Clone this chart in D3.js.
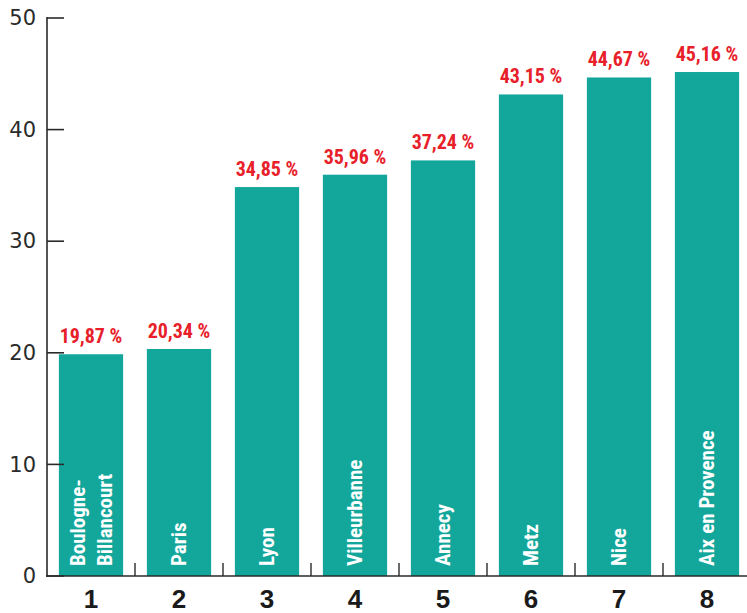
<!DOCTYPE html>
<html><head><meta charset="utf-8">
<script src="https://cdn.jsdelivr.net/npm/d3@7"></script>
<style>body{margin:0;background:#fff}svg{display:block}</style>
</head><body>
<svg id="c" width="747" height="613"></svg>
<script>
const ranks = ["1","2","3","4","5","6","7","8"];
const cities = [["Boulogne-","Billancourt"],["Paris"],["Lyon"],["Villeurbanne"],["Annecy"],["Metz"],["Nice"],["Aix en Provence"]];
const values = [19.87, 20.34, 34.85, 35.96, 37.24, 43.15, 44.67, 45.16];
const valueLabels = ["19,87 %","20,34 %","34,85 %","35,96 %","37,24 %","43,15 %","44,67 %","45,16 %"];
const yTicks = [0,10,20,30,40,50];

const svg = d3.select("#c");
const x = d3.scaleBand().domain(ranks).range([47, 751]).paddingInner(0.27).paddingOuter(0.135);
const y = d3.scaleLinear().domain([0,50]).range([576, 18]);
const teal = "#13a79c", red = "#e8202a", ink = "#2a2a2a";
const cond = "'Liberation Sans Narrow','Roboto Condensed','Liberation Sans',Arial,sans-serif";

const data = ranks.map((r,i)=>({r, v:values[i], city:cities[i], lab:valueLabels[i]}));

svg.selectAll("rect.bar").data(data).join("rect").attr("class","bar")
  .attr("x", d=>x(d.r)).attr("width", x.bandwidth())
  .attr("y", d=>y(d.v)).attr("height", d=>y(0)-y(d.v)).attr("fill", teal);

svg.selectAll("text.val").data(data).join("text").attr("class","val")
  .attr("x", d=>x(d.r)+x.bandwidth()/2).attr("y", d=>y(d.v)-11)
  .attr("text-anchor","middle").attr("fill", red)
  .style("font-family", cond).style("font-weight","bold").style("font-size","20px")
  .text(d=>d.lab);

// city labels rotated inside bars
data.forEach(d=>{
  const cx = x(d.r)+x.bandwidth()/2;
  const n = d.city.length;
  const g = svg.append("g").attr("transform", `translate(${cx},566) rotate(-90)`);
  d.city.forEach((line,j)=>{
    const off = (j - (n-1)/2)*27 + 7;
    g.append("text").attr("x",0).attr("y",off)
      .attr("fill","#fff").style("font-family",cond).style("font-weight","bold").style("font-size","21px")
      .text(line);
  });
});

// y axis
const yAxis = d3.axisLeft(y).tickValues(yTicks).tickSize(0).tickPadding(11);
const ya = svg.append("g").attr("transform","translate(47,0)").call(yAxis);
ya.select(".domain").remove();
ya.selectAll("text").style("font-family","'DejaVu Sans',sans-serif").style("font-size","21px").attr("fill", ink);
svg.append("line").attr("x1",47).attr("x2",47).attr("y1",y(50)-1).attr("y2",y(0)+1).attr("stroke",ink).attr("stroke-width",1.6);
svg.selectAll("line.yt").data(yTicks).join("line").attr("class","yt")
  .attr("x1",47).attr("x2",64).attr("y1",d=>y(d)).attr("y2",d=>y(d)).attr("stroke",ink).attr("stroke-width",1.6);

// x axis
svg.append("line").attr("x1",46).attr("x2",747).attr("y1",y(0)).attr("y2",y(0)).attr("stroke",ink).attr("stroke-width",1.6);
const step = x.step();
svg.selectAll("line.xt").data(ranks.slice(1)).join("line").attr("class","xt")
  .attr("x1", d=>x(d)-(step-x.bandwidth())/2).attr("x2", d=>x(d)-(step-x.bandwidth())/2)
  .attr("y1", y(0)).attr("y2", y(0)-13).attr("stroke",ink).attr("stroke-width",1.4);
svg.selectAll("text.rank").data(ranks).join("text").attr("class","rank")
  .attr("x", d=>x(d)+x.bandwidth()/2).attr("y", 608).attr("text-anchor","middle")
  .attr("fill","#1a1a1a").style("font-family","'Liberation Sans',Arial,sans-serif").style("font-weight","bold").style("font-size","26px")
  .text(d=>d);
</script>
</body></html>
